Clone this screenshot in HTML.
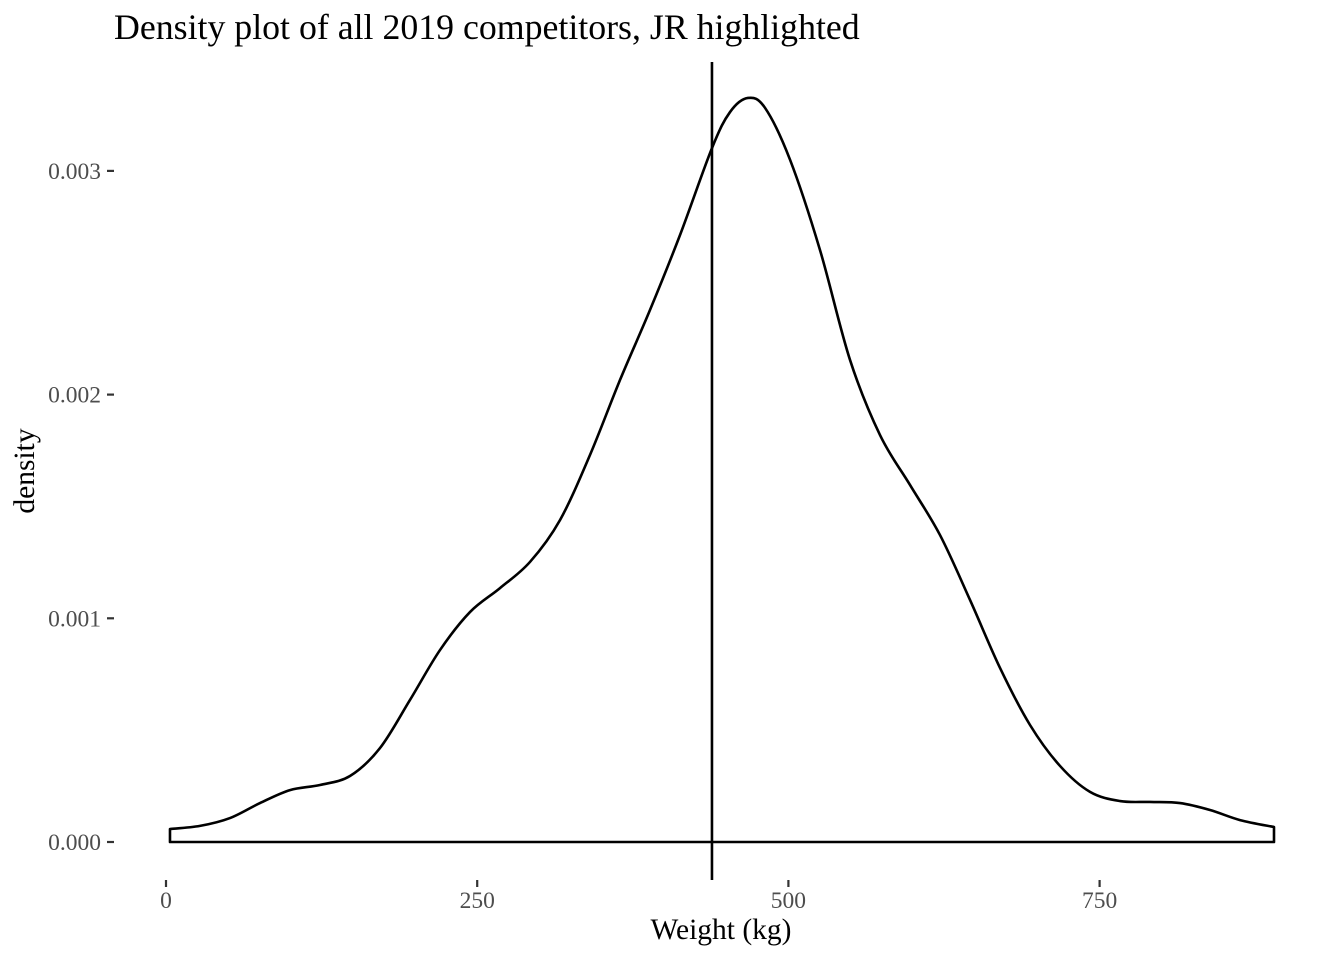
<!DOCTYPE html>
<html><head><meta charset="utf-8"><style>
html,body{margin:0;padding:0;background:#fff;}
svg{display:block;font-family:"Liberation Serif",serif;}
</style></head><body>
<svg id="chart" width="1344" height="960">
<text x="114" y="39" font-size="35.8" fill="#000">Density plot of all 2019 competitors, JR highlighted</text>
<g id="axes"></g>
<g id="marks"></g>
<text x="721" y="939" font-size="29.5" text-anchor="middle" fill="#000">Weight (kg)</text>
<text transform="translate(34,471) rotate(-90)" font-size="29.5" text-anchor="middle" fill="#000">density</text>
</svg>
<script>
const weights=[3.2,27.3,51.4,75.5,99.6,123.7,147.8,171.9,196,220.1,244.2,268.3,292.4,316.5,340.6,364.7,388.8,412.9,438.6,453.1,467.5,481.2,501.3,525.4,549.5,573.6,597.7,621.8,645.9,670,694.1,718.2,742.3,766.4,790.5,814.6,838.7,862.8,890.1];
const densities=[0.058,0.072,0.107,0.174,0.232,0.255,0.295,0.420,0.635,0.858,1.028,1.135,1.252,1.439,1.730,2.065,2.378,2.713,3.102,3.263,3.326,3.282,3.050,2.646,2.155,1.819,1.596,1.372,1.082,0.778,0.523,0.340,0.224,0.183,0.179,0.174,0.143,0.098,0.067].map(v=>v/1000);
const xTicks=[0,250,500,750];
const xTickLabels=["0","250","500","750"];
const yTicks=[0,0.001,0.002,0.003];
const yTickLabels=["0.000","0.001","0.002","0.003"];
const jrWeight=438.6;

const xs=v=>166+v*1.2448;
const ys=v=>842-v*223700;
const NS="http://www.w3.org/2000/svg";
const axes=document.getElementById('axes'), marks=document.getElementById('marks');
function mk(tag,attrs,parent){const e=document.createElementNS(NS,tag);for(const k in attrs)e.setAttribute(k,attrs[k]);parent.appendChild(e);return e;}
xTicks.forEach((t,i)=>{
  const l=mk('line',{x1:xs(t),x2:xs(t),y1:880,y2:887,stroke:'#333','stroke-width':2.2},axes);
  
  
  const tx=mk('text',{x:xs(t),y:908,'font-size':23.5,'text-anchor':'middle',fill:'#4d4d4d'},axes);
  tx.textContent=xTickLabels[i];
  
  
});
yTicks.forEach((t,i)=>{
  const l=mk('line',{x1:107,x2:114,y1:ys(t),y2:ys(t),stroke:'#333','stroke-width':2.2},axes);
  
  
  const tx=mk('text',{x:101,y:ys(t)+8,'font-size':23.5,'text-anchor':'end',fill:'#4d4d4d'},axes);
  tx.textContent=yTickLabels[i];
  
  
});
const pts=weights.map((w,i)=>[xs(w),ys(densities[i])]);
let d=`M${xs(weights[0])},${ys(0)} L${pts[0][0]},${pts[0][1]}`;
for(let i=0;i<pts.length-1;i++){
  const p0=pts[Math.max(0,i-1)],p1=pts[i],p2=pts[i+1],p3=pts[Math.min(pts.length-1,i+2)];
  const c1=[p1[0]+(p2[0]-p0[0])/6,p1[1]+(p2[1]-p0[1])/6];
  const c2=[p2[0]-(p3[0]-p1[0])/6,p2[1]-(p3[1]-p1[1])/6];
  d+=` C${c1[0]},${c1[1]} ${c2[0]},${c2[1]} ${p2[0]},${p2[1]}`;
}
d+=` L${xs(weights[weights.length-1])},${ys(0)} Z`;
const area=mk('path',{d:d,fill:'none',stroke:'#000','stroke-width':2.6,'stroke-linejoin':'round'},marks);


const vl=mk('line',{x1:xs(jrWeight),x2:xs(jrWeight),y1:62,y2:880,stroke:'#000','stroke-width':2.6},marks);


</script>
</body></html>
